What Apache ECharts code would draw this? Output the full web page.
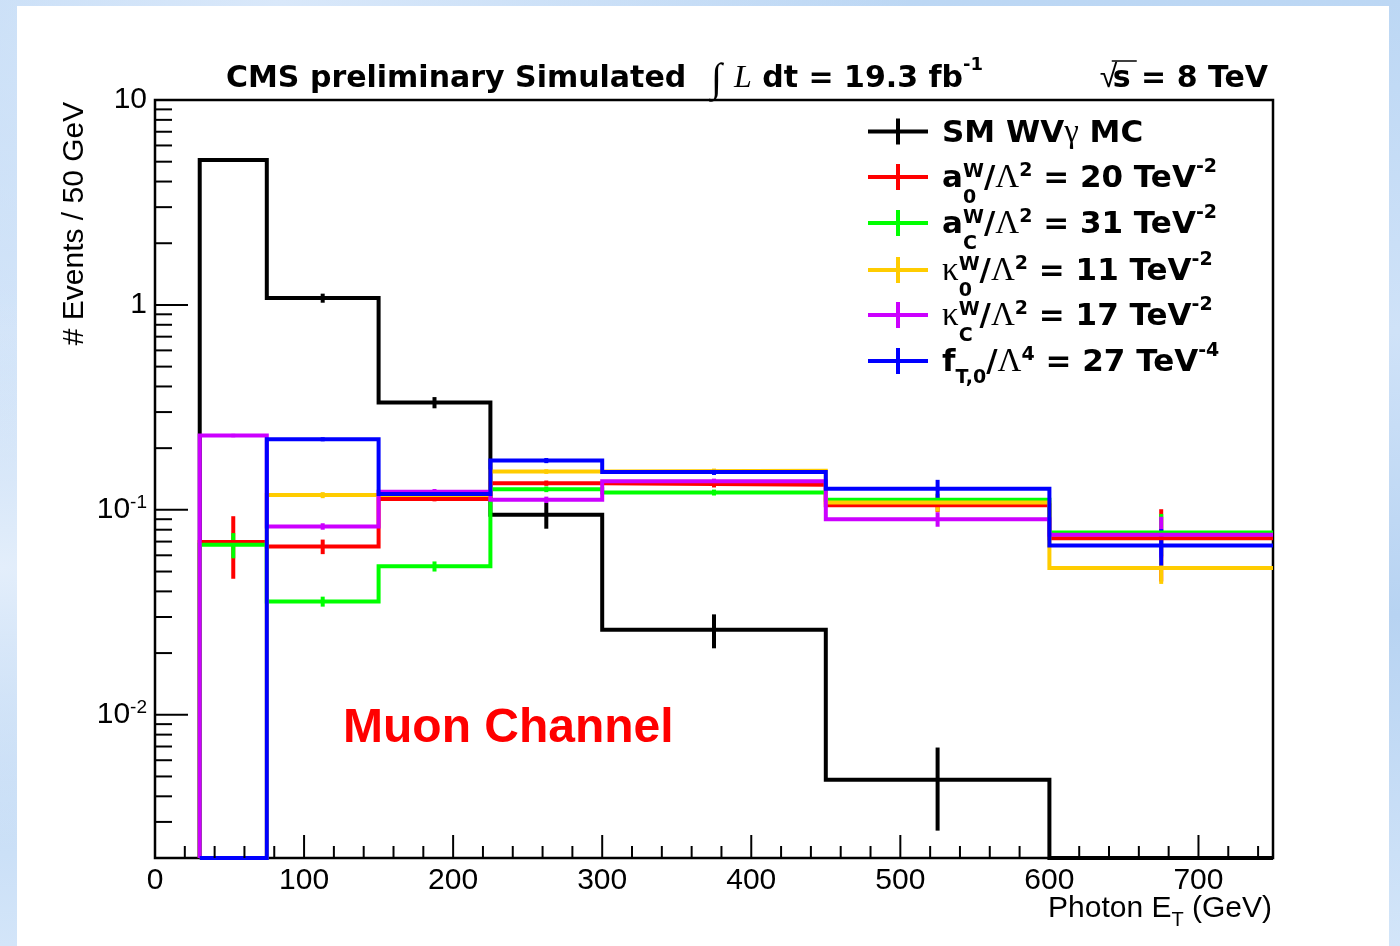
<!DOCTYPE html>
<html>
<head>
<meta charset="utf-8">
<script src="https://cdn.jsdelivr.net/npm/echarts@6/dist/echarts.min.js"></script>
<style>
  html, body { margin: 0; padding: 0; }
  body {
    width: 1400px; height: 946px; overflow: hidden; position: relative;
    background:
      radial-gradient(ellipse at 20% 0%, #d9e8fa 0%, rgba(217,232,250,0) 40%),
      radial-gradient(ellipse at 0% 60%, #e3eefb 0%, rgba(227,238,251,0) 35%),
      linear-gradient(180deg, #bcd7f4 0%, #cfe2f8 35%, #b7d3f2 65%, #d3e5f9 100%);
  }
  #panel { position: absolute; left: 17px; top: 6px; width: 1372px; height: 940px; background: #ffffff; }
  #chart { position: absolute; left: 0; top: 0; width: 1400px; height: 946px; }
</style>
</head>
<body>
<div id="panel"></div>
<div id="chart"></div>
<script>
// ---- histogram binning (photon ET, GeV) ----
const binEdges = [30, 75, 150, 225, 300, 450, 600, 750];

// ---- bin contents and statistical uncertainties ----
const smMC      = [5.1, 1.08, 0.334, 0.0946, 0.026, 0.00482, 0];
const smMCErr   = [0.1, 0.055, 0.021, 0.0137, 0.0049, 0.0021, 0];
const a0W       = [0.0696, 0.0662, 0.113, 0.135, 0.1326, 0.1054, 0.0727];
const a0WErr    = [0.0235, 0.0054, 0.003, 0.004, 0.004, 0.008, 0.028];
const aCW       = [0.0675, 0.0357, 0.053, 0.126, 0.1215, 0.112, 0.0775];
const aCWErr    = [0.0095, 0.002, 0.003, 0.004, 0.004, 0.008, 0.018];
const k0W       = [0, 0.118, 0.118, 0.1538, 0.155, 0.1085, 0.052];
const k0WErr    = [0, 0.004, 0.004, 0.004, 0.004, 0.0105, 0.0085];
const kCW       = [0.2305, 0.083, 0.1224, 0.112, 0.138, 0.090, 0.0755];
const kCWErr    = [0.0045, 0.003, 0.004, 0.004, 0.004, 0.0073, 0.017];
const fT0       = [0, 0.221, 0.1195, 0.174, 0.153, 0.1266, 0.067];
const fT0Err    = [0, 0.005, 0.004, 0.005, 0.005, 0.0135, 0.0135];

// ---- axis ranges and tick marks ----
const xRange = [0, 750];
const yRange = [0.002, 10];
const xMajorTicks = [100, 200, 300, 400, 500, 600, 700];
const xMinorTicks = [20, 40, 60, 80, 120, 140, 160, 180, 220, 240, 260, 280, 320, 340, 360, 380,
                     420, 440, 460, 480, 520, 540, 560, 580, 620, 640, 660, 680, 720, 740];
const yMajorTicks = [0.01, 0.1, 1];
const yMinorTicks = [0.003, 0.004, 0.005, 0.006, 0.007, 0.008, 0.009,
                     0.02, 0.03, 0.04, 0.05, 0.06, 0.07, 0.08, 0.09,
                     0.2, 0.3, 0.4, 0.5, 0.6, 0.7, 0.8, 0.9,
                     2, 3, 4, 5, 6, 7, 8, 9];

const histos = [
  { name: 'SM', values: smMC, errors: smMCErr, color: '#000000' },
  { name: 'a0', values: a0W,  errors: a0WErr,  color: '#ff0000' },
  { name: 'aC', values: aCW,  errors: aCWErr,  color: '#00ff00' },
  { name: 'k0', values: k0W,  errors: k0WErr,  color: '#ffcc00' },
  { name: 'kC', values: kCW,  errors: kCWErr,  color: '#cc00ff' },
  { name: 'fT', values: fT0,  errors: fT0Err,  color: '#0000ff' }
];

const yMin = yRange[0];
const binCenters = binEdges.slice(0, -1).map((lo, i) => (lo + binEdges[i + 1]) / 2);

// step outline of a histogram; empty bins sit on the lower frame,
// the closing drop at the upper x edge is left to the frame
function outline(values) {
  const pts = [[binEdges[0], yMin]];
  values.forEach((v, i) => {
    const y = v > 0 ? v : yMin;
    pts.push([binEdges[i], y]);
    pts.push([binEdges[i + 1], y]);
  });
  return pts;
}

const series = [];
histos.forEach(h => {
  series.push({
    type: 'line', name: h.name, data: outline(h.values),
    showSymbol: false, clip: false, animation: false, silent: true,
    lineStyle: { color: h.color, width: 4, join: 'miter', cap: 'butt' }
  });
  series.push({
    type: 'custom', name: h.name + ' err', animation: false, silent: true,
    data: binCenters.map((c, i) => [c, h.values[i], h.errors[i]]),
    renderItem: (params, api) => {
      const x = api.value(0), v = api.value(1), e = api.value(2);
      if (!(v > 0) || !(e > 0)) return null;
      const p1 = api.coord([x, Math.max(v - e, yMin)]);
      const p2 = api.coord([x, v + e]);
      return { type: 'line', shape: { x1: p1[0], y1: p1[1], x2: p2[0], y2: p2[1] },
               style: { stroke: h.color, lineWidth: 4 } };
    }
  });
});

// frame tick marks pointing into the plot
const tickData = []
  .concat(xMajorTicks.map(v => [v, yMin, 23, 0]))
  .concat(xMinorTicks.map(v => [v, yMin, 12, 0]))
  .concat(yMajorTicks.map(v => [xRange[0], v, 33, 1]))
  .concat(yMinorTicks.map(v => [xRange[0], v, 17, 1]));
series.push({
  type: 'custom', name: 'ticks', animation: false, silent: true, z: 5,
  data: tickData,
  renderItem: (params, api) => {
    const p = api.coord([api.value(0), api.value(1)]);
    const len = api.value(2);
    const shape = api.value(3) === 0
      ? { x1: p[0], y1: p[1], x2: p[0], y2: p[1] - len }
      : { x1: p[0], y1: p[1], x2: p[0] + len, y2: p[1] };
    return { type: 'line', shape, style: { stroke: '#000', lineWidth: 2 } };
  }
});

// ---- text layout helpers ----
const ctx = document.createElement('canvas').getContext('2d');
function fontStr(p) { return `${p.style || 'normal'} ${p.weight || 'normal'} ${p.size}px "${p.family}"`; }
function measure(p) { ctx.font = fontStr(p); return ctx.measureText(p.t).width; }
function textEl(p, x, baseline) {
  return {
    type: 'text', x: x, y: baseline - 0.28 * p.size, silent: true, z: 10,
    style: { text: p.t, fontFamily: p.family, fontSize: p.size, fontWeight: p.weight || 'normal',
             fontStyle: p.style || 'normal', fill: p.color || '#000', align: 'left', verticalAlign: 'middle' }
  };
}
function width(parts) {
  let w = 0;
  parts.forEach(p => {
    if (p.stack) w += Math.max.apply(null, p.stack.map(measure));
    else w += measure(p) + (p.dx || 0);
  });
  return w;
}
function layout(x, baseline, parts, els) {
  let cx = x;
  parts.forEach(p => {
    if (p.stack) {
      let wmax = 0;
      p.stack.forEach(q => { els.push(textEl(q, cx, baseline + (q.dy || 0))); wmax = Math.max(wmax, measure(q)); });
      cx += wmax;
    } else {
      els.push(textEl(p, cx + (p.dx || 0), baseline + (p.dy || 0)));
      cx += measure(p) + (p.dx || 0);
    }
  });
  return cx;
}

const SANS_B = 'DejaVu Sans', SERIF = 'Liberation Serif', HELV = 'Liberation Sans';
const B = (t, extra) => Object.assign({ t, family: SANS_B, weight: 'bold', size: 31 }, extra || {});
const SUP = (t, dy) => ({ t, family: SANS_B, weight: 'bold', size: 19, dy: dy });
const GR = (t, extra) => Object.assign({ t, family: SERIF, size: 33 }, extra || {});

const graphics = [];

// title line
layout(226, 88, [B('CMS preliminary Simulated', { size: 30 })], graphics);
layout(711, 88, [
  { t: '\u222B', family: SERIF, size: 40, dy: 4 },
  { t: 'L', family: SERIF, style: 'italic', size: 32, dx: 12 },
  B(' dt = 19.3 fb', { size: 30 }),
  { t: '-1', family: SANS_B, weight: 'bold', size: 18, dy: -18 }
], graphics);
const sqrtParts = [B('s = 8 TeV', { size: 30 })];
const sx = 1268 - width(sqrtParts);
layout(sx, 88, sqrtParts, graphics);
graphics.push({ type: 'text', x: sx - 13, y: 78, silent: true, z: 10,
  style: { text: '\u221A', fontFamily: HELV, fontSize: 32, fill: '#000', align: 'left', verticalAlign: 'middle' } });
graphics.push({ type: 'line', silent: true, z: 10,
  shape: { x1: sx - 1, y1: 61, x2: sx + 24, y2: 61 }, style: { stroke: '#000', lineWidth: 1.5 } });

// legend
const legendRows = [
  { yc: 131.5, color: '#000000', parts: [B('SM WV'), GR('\u03B3', { dy: 0 }), B(' MC')] },
  { yc: 177, color: '#ff0000', parts: [B('a'), { stack: [SUP('W', -11), SUP('0', 15)] }, B('/'), GR('\u039B'), SUP('2', -12), B(' = 20 TeV'), SUP('-2', -16)] },
  { yc: 223, color: '#00ff00', parts: [B('a'), { stack: [SUP('W', -11), SUP('C', 15)] }, B('/'), GR('\u039B'), SUP('2', -12), B(' = 31 TeV'), SUP('-2', -16)] },
  { yc: 270, color: '#ffcc00', parts: [GR('\u03BA'), { stack: [SUP('W', -11), SUP('0', 15)] }, B('/'), GR('\u039B'), SUP('2', -12), B(' = 11 TeV'), SUP('-2', -16)] },
  { yc: 315, color: '#cc00ff', parts: [GR('\u03BA'), { stack: [SUP('W', -11), SUP('C', 15)] }, B('/'), GR('\u039B'), SUP('2', -12), B(' = 17 TeV'), SUP('-2', -16)] },
  { yc: 361, color: '#0000ff', parts: [B('f'), SUP('T,0', 11), B('/'), GR('\u039B'), SUP('4', -12), B(' = 27 TeV'), SUP('-4', -16)] }
];
legendRows.forEach(r => {
  graphics.push({ type: 'line', silent: true, z: 10, shape: { x1: 868, y1: r.yc, x2: 928, y2: r.yc }, style: { stroke: r.color, lineWidth: 4 } });
  graphics.push({ type: 'line', silent: true, z: 10, shape: { x1: 898, y1: r.yc - 13, x2: 898, y2: r.yc + 13 }, style: { stroke: r.color, lineWidth: 4 } });
  layout(942, r.yc + 11, r.parts, graphics);
});

// channel label
layout(343, 742, [{ t: 'Muon Channel', family: HELV, weight: 'bold', size: 48, color: '#ff0000' }], graphics);

// axis titles
graphics.push({ type: 'text', x: 75, y: 223.5, rotation: Math.PI / 2, silent: true, z: 10,
  style: { text: '# Events / 50 GeV', fontFamily: HELV, fontSize: 30, fill: '#000', align: 'center', verticalAlign: 'middle' } });
const xTitle = [{ t: 'Photon E', family: HELV, size: 30 }, { t: 'T', family: HELV, size: 20, dy: 9 }, { t: ' (GeV)', family: HELV, size: 30 }];
layout(1272 - width(xTitle), 917, xTitle, graphics);

const chart = echarts.init(document.getElementById('chart'), null, { renderer: 'canvas' });
chart.setOption({
  animation: false,
  backgroundColor: 'transparent',
  grid: { left: 155, right: 127, top: 100, bottom: 88, show: true, borderColor: '#000', borderWidth: 2.5, backgroundColor: 'transparent' },
  xAxis: {
    type: 'value', min: xRange[0], max: xRange[1], interval: 100,
    axisLine: { show: false }, axisTick: { show: false }, splitLine: { show: false },
    axisLabel: { color: '#000', fontFamily: HELV, fontSize: 30, margin: 8, showMaxLabel: false,
      formatter: v => (v % 100 === 0 ? String(v) : '') }
  },
  yAxis: {
    type: 'log', logBase: 10, min: yRange[0], max: yRange[1],
    axisLine: { show: false }, axisTick: { show: false }, splitLine: { show: false }, minorTick: { show: false },
    axisLabel: {
      color: '#000', fontFamily: HELV, fontSize: 30, margin: 8,
      formatter: v => {
        const e = Math.log10(v), r = Math.round(e);
        if (Math.abs(e - r) > 1e-6) return '';
        if (r === 1) return '{b|10}';
        if (r === 0) return '{b|1}';
        return '{b|10}{s|' + r + '}';
      },
      rich: {
        b: { fontFamily: HELV, fontSize: 30, color: '#000' },
        s: { fontFamily: HELV, fontSize: 19, color: '#000', padding: [0, 0, 14, 0] }
      }
    }
  },
  series: series,
  graphic: graphics
});
</script>
</body>
</html>
